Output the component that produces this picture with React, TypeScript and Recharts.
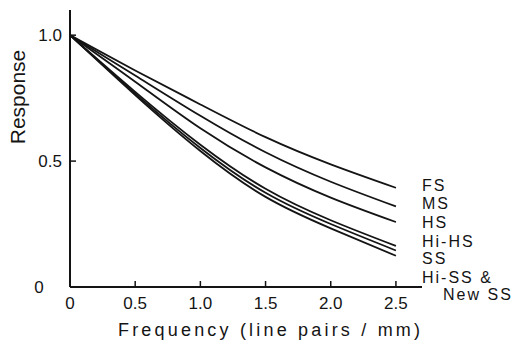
import React from 'react';
import { LineChart, Line, XAxis, YAxis } from 'recharts';

// spatial frequency (line pairs / mm)
const frequency = [0, 0.5, 1.0, 1.5, 2.0, 2.5];

// response of each screen type
const fsResponse = [1, 0.86, 0.725, 0.595, 0.487, 0.394];
const msResponse = [1, 0.84, 0.68, 0.535, 0.418, 0.32];
const hsResponse = [1, 0.815, 0.63, 0.475, 0.355, 0.258];
const hiHsResponse = [1, 0.775, 0.565, 0.39, 0.265, 0.163];
const ssResponse = [1, 0.768, 0.552, 0.374, 0.25, 0.145];
const hiSsResponse = [1, 0.762, 0.54, 0.358, 0.233, 0.124];

const seriesKeys = ['FS', 'MS', 'HS', 'Hi-HS', 'SS', 'Hi-SS'];
const seriesValues = [fsResponse, msResponse, hsResponse, hiHsResponse, ssResponse, hiSsResponse];

const xTicks = [0, 0.5, 1.0, 1.5, 2.0, 2.5];
const xTickLabels = ['0', '0.5', '1.0', '1.5', '2.0', '2.5'];
const yTicks = [0, 0.5, 1.0];
const yTickLabels = ['0', '0.5', '1.0'];

// labels at the right end of the curves
const endLabels = ['FS', 'MS', 'HS', 'Hi-HS', 'SS', 'Hi-SS &', 'New SS'];

const data = frequency.map((f, i) => {
  const row: Record<string, number> = { f };
  seriesKeys.forEach((k, j) => {
    row[k] = seriesValues[j][i];
  });
  return row;
});

const FONT = '"Liberation Sans", Arial, sans-serif';
const INK = '#141414';

const XTick = (props: any) => {
  const { x, payload, index } = props;
  const label = xTickLabels[xTicks.indexOf(payload.value)] ?? String(payload.value);
  return (
    <g>
      {index > 0 && <line x1={x} x2={x} y1={287} y2={281} stroke={INK} strokeWidth={1.5} />}
      <text x={x} y={309} textAnchor="middle" fontSize={17} fontFamily={FONT} fill={INK}>
        {label}
      </text>
    </g>
  );
};

const YTick = (props: any) => {
  const { y, payload } = props;
  const label = yTickLabels[yTicks.indexOf(payload.value)] ?? String(payload.value);
  if (payload.value === 0) {
    return (
      <text x={39} y={y + 6} textAnchor="middle" fontSize={17} fontFamily={FONT} fill={INK}>
        {label}
      </text>
    );
  }
  return (
    <g>
      <line x1={70} x2={76} y1={y} y2={y} stroke={INK} strokeWidth={1.5} />
      <text x={62} y={y + 6} textAnchor="end" fontSize={17} fontFamily={FONT} fill={INK}>
        {label}
      </text>
    </g>
  );
};

export default function App() {
  const labelY = [191, 209, 228, 247, 264, 283, 300];
  const labelX = [422, 422, 422, 422, 422, 422, 443];

  return (
    <div style={{ position: 'absolute', left: 0, top: 0, width: 515, height: 345, background: '#fff' }}>
      <LineChart
        width={515}
        height={345}
        data={data}
        margin={{ top: 10, right: 93, bottom: 28, left: 10 }}
      >
        <XAxis
          dataKey="f"
          type="number"
          domain={[0, 2.7]}
          ticks={xTicks}
          tickLine={false}
          axisLine={{ stroke: INK, strokeWidth: 2 }}
          tick={<XTick />}
          height={30}
          interval={0}
        />
        <YAxis
          type="number"
          domain={[0, 1.1]}
          ticks={yTicks}
          tickLine={false}
          axisLine={{ stroke: INK, strokeWidth: 2 }}
          tick={<YTick />}
          width={60}
          interval={0}
        />
        {seriesKeys.map((k) => (
          <Line
            key={k}
            dataKey={k}
            type="natural"
            stroke={INK}
            strokeWidth={1.8}
            dot={false}
            isAnimationActive={false}
          />
        ))}
      </LineChart>
      <svg
        width={515}
        height={345}
        style={{ position: 'absolute', left: 0, top: 0, pointerEvents: 'none' }}
      >
        <text
          x={17}
          y={97}
          transform="rotate(-90 17 97)"
          textAnchor="middle"
          dominantBaseline="central"
          fontSize={21}
          fontFamily={FONT}
          fill={INK}
        >
          Response
        </text>
        <text
          x={118}
          y={336}
          fontSize={18}
          fontFamily={FONT}
          fill={INK}
          textLength={302}
          lengthAdjust="spacing"
        >
          Frequency (line pairs / mm)
        </text>
        {endLabels.map((t, i) => (
          <text
            key={t}
            x={labelX[i]}
            y={labelY[i]}
            fontSize={16}
            fontFamily={FONT}
            fill={INK}
            letterSpacing={2}
          >
            {t}
          </text>
        ))}
      </svg>
    </div>
  );
}
